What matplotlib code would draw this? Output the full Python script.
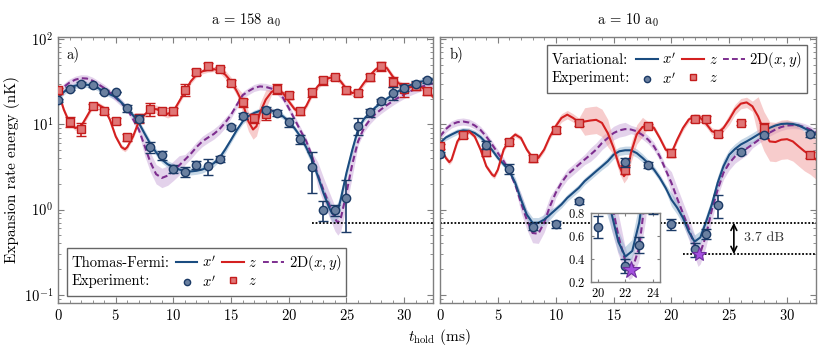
import numpy as np
import matplotlib.pyplot as plt
from matplotlib.lines import Line2D
from matplotlib.ticker import MultipleLocator

plt.rcParams['font.family'] = 'cmr10'
plt.rcParams['mathtext.fontset'] = 'cm'
plt.rcParams['axes.unicode_minus'] = False
plt.rcParams['axes.formatter.use_mathtext'] = True
plt.rcParams['font.size'] = 10.5

# ---------------- data: panel a) a = 158 a0 (Thomas-Fermi) ----------------
tf_xp_t = [0, 0.5, 1, 1.5, 2, 2.5, 3, 3.5, 4, 4.5, 5, 5.5, 6, 6.5, 7, 7.5, 8, 8.5, 9, 9.5,
           10, 10.5, 11, 11.5, 12, 12.5, 13, 13.5, 14, 14.5, 15, 15.5, 16, 16.5, 17, 17.5,
           18, 18.5, 19, 19.5, 20, 20.5, 21, 21.5, 22, 22.5, 23, 23.5, 23.75, 24, 24.25, 24.5,
           25, 25.5, 26, 26.5, 27, 27.5, 28, 28.5, 29, 29.5, 30, 30.5, 31, 31.5, 32, 32.5]
tf_xp_e = [20.4, 24, 27, 28.5, 29.2, 29.2, 28.5, 26.5, 24.2, 22.5, 21, 18, 15.2, 12.8, 10.4, 7.8,
           5.9, 4.7, 3.86, 3.4, 3.17, 2.95, 2.82, 2.8, 2.85, 2.95, 3.17, 3.5, 4.04, 5.1, 6.6, 8.6,
           10.8, 12.5, 13.6, 14.4, 14.9, 14.5, 13.6, 12.4, 10.8, 9.0, 7.2, 5.4, 3.86, 2.5, 1.57, 1.05,
           0.9, 0.87, 0.98, 1.31, 2.7, 5.0, 8.7, 11.5, 13.6, 15.8, 17.8, 20, 22.3, 24.5, 26.7, 28.7,
           30.5, 31.8, 32.8, 33.5]
tf_xp_band = [1.08] * 15 + [1.1] * 15 + [1.08] * 13 + [1.15] * 4 + [1.25] * 5 + [1.15] * 3 + [1.08] * 13

tf_z_t = [0, 0.5, 1, 1.5, 2, 2.5, 3, 3.5, 4, 4.5, 5, 5.5, 5.8, 6, 6.5, 7, 7.5, 8, 8.5, 9, 9.5,
          10, 10.5, 11, 11.5, 12, 12.5, 13, 13.5, 14, 14.5, 15, 15.5, 16, 16.5, 16.9, 17.2, 17.5,
          18, 18.5, 19, 19.5, 20, 20.5, 21, 21.5, 22, 22.5, 23, 23.5, 24, 24.5, 25, 25.5, 26,
          26.5, 27, 27.5, 28, 28.5, 29, 29.5, 30, 30.5, 31, 31.5, 32, 32.5]
tf_z_e = [24.4, 14.9, 10.4, 9.06, 9.5, 12.4, 16.3, 17, 15.5, 11.3, 7.2, 5.4, 5.1, 5.4, 7.2, 10.8,
          13, 14.9, 15.1, 14.2, 13.3, 14.2, 18.6, 24.4, 31.9, 38.3, 41.9, 43.8, 44.5, 42.9, 38.3,
          31.9, 24.4, 17.8, 10.8, 8.7, 9.5, 13.6, 19.5, 24, 26, 23.3, 18.6, 15.1, 13.6, 16.3, 22.3,
          27.9, 32.8, 35, 35.9, 31.9, 26, 23.3, 24.4, 30.5, 37.2, 43.8, 48.7, 45.8, 36.6, 30.5,
          27.9, 27.3, 27.9, 27.3, 25.5, 21]
tf_z_band = [1.07] * 17 + [1.12] * 5 + [1.07] * 8 + [1.12] * 3 + [1.3] * 6 + [1.08] * 29

tf_2d_t = [0, 0.5, 1, 1.5, 2, 2.5, 3, 3.5, 4, 4.5, 5, 5.5, 6, 6.5, 7, 7.5, 8, 8.5, 9, 9.5,
           10, 10.5, 11, 11.5, 12, 12.5, 13, 13.5, 14, 14.5, 15, 15.5, 16, 16.5, 17, 17.5,
           18, 18.5, 19, 19.5, 20, 20.5, 21, 21.5, 22, 22.5, 23, 23.5, 24, 24.25, 24.5,
           25, 25.5, 26, 26.5, 27, 27.5, 28, 28.5, 29, 29.5, 30, 30.5, 31, 31.5, 32, 32.5]
tf_2d_e = [23.3, 27.5, 31, 33.5, 34.8, 34.5, 32.5, 29.5, 26.7, 23.5, 20.5, 17.8, 15.2, 11.5, 8.7,
           5.6, 3.6, 2.6, 2.35, 2.5, 2.85, 3.3, 3.85, 4.5, 5.4, 6.3, 7.0, 7.7, 8.8, 10.5, 13.0, 17,
           22, 24.5, 26.8, 27.9, 27.5, 26.3, 24.5, 20.5, 15.5, 11.5, 8.5, 6.4, 4.3, 2.6, 1.7, 1.15,
           0.78, 0.70, 0.78, 1.57, 3.4, 6.3, 9.0, 11.2, 13.2, 15, 16.8, 18.7, 20.6, 22.5, 24.4, 26,
           27.6, 29, 30.3]
tf_2d_band = [1.1] * 15 + [1.3] * 7 + [1.15] * 8 + [1.1] * 15 + [1.4] * 8 + [1.12] * 14

exp158_xp_t = [0, 1, 2, 3, 4, 5, 6, 7, 8, 9, 10, 11, 12, 13, 14, 15, 16, 18, 19, 20, 21, 22,
               23, 24, 25, 26, 27, 28, 29, 30, 31, 32]
exp158_xp_e = [19.1, 26.2, 30.0, 28.6, 24.2, 24.2, 15.6, 11.7, 5.43, 4.33, 3.0, 2.77, 3.34, 3.22,
               3.93, 9.4, 12.6, 14.8, 13.7, 10.6, 6.74, 3.17, 1.0, 0.98, 1.37, 9.66, 13.8, 18.6,
               23.3, 26.7, 30.0, 32.8]
exp158_xp_err = [1.0, 1.2, 1.3, 1.2, 1.0, 0.0, 1.5, 1.1, 0.85, 0.5, 0.3, 0.38, 0.35, 0.7, 0.3,
                 0.5, 1.0, 1.0, 1.0, 1.2, 0.8, 1.6, 0.27, 0.15, 0.83, 2.2, 1.5, 1.3, 4.0, 2.0,
                 2.0, 2.0]

exp158_z_t = list(range(33))
exp158_z_e = [25, 10.8, 8.8, 16.3, 14.2, 11.0, 7.04, 11.8, 15.1, 14.5, 14.2, 25.5, 41, 47.9, 44.6,
              31, 18.1, 11.9, 13.2, 26, 22.1, 14.2, 23.7, 32.8, 35.9, 25, 23.3, 35.9, 47.9, 31.7,
              26, 28.4, 24.4]
exp158_z_err = [2, 1.5, 1.5, 1.2, 1.0, 0.8, 0.6, 1.5, 2.5, 1.2, 1.2, 4, 3.5, 4.5, 3, 2.5, 2.0,
                1.5, 2.0, 3.5, 2.0, 1.2, 2.5, 3.5, 2.5, 2.5, 2.0, 3.5, 6, 4.5, 5, 3, 2]

# ---------------- data: panel b) a = 10 a0 (variational) ----------------
var_xp_t = [i * 0.5 for i in range(66)]
var_xp_e = [6.05, 7.0, 7.6, 8.2, 8.5, 8.4, 7.9, 7.1, 6.05, 5.0, 4.04, 3.4, 2.82, 2.06, 1.31, 0.87,
            0.70, 0.70, 0.76, 0.87, 1.0, 1.15, 1.37, 1.57, 1.8, 2.15, 2.46, 2.82, 3.22, 3.69, 4.4,
            4.83, 4.96, 4.96, 4.6, 4.04, 3.5, 2.94, 2.35, 1.8, 1.31, 1.05, 0.8, 0.55, 0.42, 0.47,
            0.72, 1.15, 2.06, 3.22, 4.4, 5.14, 5.8, 6.3, 6.9, 7.6, 8.3, 9.1, 9.7, 10.1, 10.2, 10.1,
            9.7, 9.0, 8.3, 7.6]
var_xp_band = [1.08] * 13 + [1.15] * 7 + [1.1] * 9 + [1.12] * 7 + [1.1] * 4 + [1.2] * 10 + [1.15] * 6 + [1.08] * 10

var_z_t = [0, 0.5, 0.8, 1, 1.5, 2, 2.5, 3, 3.5, 4, 4.5, 4.7, 5, 5.5, 6, 6.5, 7, 7.5, 8, 8.5, 9,
           9.5, 10, 10.5, 11, 11.5, 12, 12.5, 13, 13.5, 14, 14.5, 15, 15.5, 15.9, 16.2, 16.5, 17,
           17.5, 18, 18.5, 19, 19.5, 20, 20.5, 21, 21.5, 22, 22.5, 23, 23.5, 24, 24.5, 25, 25.5,
           26, 26.5, 27, 27.5, 28, 28.5, 29, 29.5, 30, 30.5, 31, 31.5, 32, 32.5]
var_z_e = [5.5, 4.04, 3.6, 3.86, 6.3, 7.9, 8.3, 7.2, 5.06, 3.22, 2.57, 2.46, 2.94, 5.06, 6.6, 7.6,
           6.9, 5.06, 4.04, 4.04, 5.06, 7.2, 9.5, 11.9, 13, 11.9, 10.6, 10.8, 11.1, 11.3, 10.4, 7.9,
           5.3, 3.22, 2.46, 2.8, 4.6, 7.6, 9.3, 9.9, 9.06, 6.9, 5.06, 4.6, 6.6, 9.06, 11.4, 12.4,
           11.9, 10.2, 8.3, 7.9, 9.06, 11.4, 14.9, 17.5, 18.1, 16.3, 12.4, 8.3, 6.3, 6.2, 6.6, 6.7,
           6.3, 5.5, 4.83, 4.4, 3.86]
var_z_band = [1.07] * 22 + [1.12] * 5 + [1.45] * 5 + [1.2] * 4 + [1.3] * 3 + [1.08] * 9 + [1.1] * 5 + [1.15] * 5 + [1.7] * 11

var_2d_t = [0, 0.5, 1, 1.5, 2, 2.5, 3, 3.5, 4, 4.5, 5, 5.5, 6, 6.5, 7, 7.5, 8, 8.5, 9, 9.5,
            10, 10.5, 11, 11.5, 12, 12.5, 13, 13.5, 14, 14.5, 15, 15.5, 16, 16.5, 17, 17.5,
            18, 18.5, 19, 19.5, 20, 20.5, 21, 21.5, 22, 22.3, 22.5, 23, 23.5, 24, 24.5, 25,
            25.5, 26, 26.5, 27, 27.5, 28, 28.5, 29, 29.5, 30, 30.5, 31, 31.5, 32, 32.5]
var_2d_e = [7.2, 8.8, 10, 10.6, 10.8, 10.5, 9.7, 8.6, 7.2, 5.8, 4.6, 3.7, 2.82, 1.96, 1.2, 0.76,
            0.53, 0.52, 0.70, 1.09, 1.57, 2.06, 2.57, 2.94, 3.37, 3.86, 4.4, 5.06, 6.05, 6.9, 7.9,
            8.5, 8.8, 8.7, 8.3, 7.5, 6.6, 5.5, 4.2, 2.94, 2.06, 1.35, 0.9, 0.6, 0.38, 0.29, 0.31,
            0.5, 1.0, 1.71, 2.7, 3.5, 4.2, 4.7, 5.2, 5.8, 6.5, 7.2, 8.0, 8.7, 9.3, 9.7, 9.8, 9.7,
            9.3, 8.7, 8.0]
var_2d_band = [1.1] * 14 + [1.3] * 6 + [1.15] * 6 + [1.2] * 7 + [1.12] * 7 + [1.35] * 9 + [1.2] * 6 + [1.1] * 12

exp10_xp_t = [0, 4, 6, 8, 10, 12, 16, 18, 20, 22, 23, 24, 26, 28, 32]
exp10_xp_e = [4.5, 5.8, 3.0, 0.63, 0.67, 1.25, 3.6, 3.35, 0.68, 0.34, 0.52, 1.14, 4.8, 7.5, 7.7]
exp10_xp_err = [0.25, 0.6, 0.4, 0.06, 0.06, 0.08, 0.4, 0.25, 0.1, 0.06, 0.07, 0.35, 0.3, 0.5, 0.5]

exp10_z_t = [0, 2, 4, 6, 8, 10, 12, 16, 18, 20, 22, 23, 24, 26, 28, 32]
exp10_z_e = [5.5, 7.5, 4.7, 6.25, 4.0, 8.6, 10.25, 2.94, 9.6, 4.65, 11.6, 11.6, 7.8, 10.35, 9.1, 4.4]
exp10_z_err = [0.4, 0.5, 0.5, 0.4, 0.4, 0.6, 0.6, 0.35, 0.6, 0.5, 0.8, 0.8, 0.6, 0.6, 1.2, 0.4]

star_t = 22.4
star_e = 0.30
ref_level = 0.70
left_ref_start = 22
right_low_start = 21
arrow_t = 25.4
db_label = '3.7 dB'

# ---------------- styles ----------------
blue, blue_band = '#1a4c80', '#8fb0cf'
red, red_band = '#d42020', '#f09a9a'
purple, purple_band = '#7d2e8f', '#c9a6d9'
circ_face, circ_edge = '#6a80a0', '#1b3a66'
sq_face, sq_edge = '#e07676', '#c41c1c'
dash = (0, (3, 1.6))
frame_col = '#7f7f7f'


def draw_curves(ax, curves):
    for t, e, band, col, bcol, ls in curves:
        t, e, band = np.array(t), np.array(e), np.array(band)
        ax.fill_between(t, e / band, e * band, color=bcol, alpha=0.5, lw=0, zorder=1)
        ax.plot(t, e, color=col, ls=ls, lw=1.5, zorder=2)


def draw_points(ax, t, e, err, kind, ms_scale=1.0):
    if kind == 'o':
        ax.errorbar(t, e, yerr=err, fmt='o', ms=6 * ms_scale, mfc=circ_face, mec=circ_edge, mew=1,
                    ecolor=circ_edge, elinewidth=1.2, capsize=3.5, capthick=1.2, zorder=4)
    else:
        ax.errorbar(t, e, yerr=err, fmt='s', ms=5.2 * ms_scale, mfc=sq_face, mec=sq_edge, mew=1,
                    ecolor=sq_edge, elinewidth=1.2, capsize=3.5, capthick=1.2, zorder=3)


def style_axes(ax):
    for s in ax.spines.values():
        s.set_color(frame_col)
        s.set_linewidth(1.0)
    ax.tick_params(which='both', direction='in', top=True, right=True, color=frame_col)
    ax.tick_params(which='major', length=4)
    ax.tick_params(which='minor', length=2)


def make_legend(ax, title, loc, anchor):
    blank = Line2D([], [], ls='none')
    handles = [blank, blank,
               Line2D([], [], color=blue, lw=1.5),
               Line2D([], [], ls='none', marker='o', ms=6, mfc=circ_face, mec=circ_edge),
               Line2D([], [], color=red, lw=1.5),
               Line2D([], [], ls='none', marker='s', ms=5.2, mfc=sq_face, mec=sq_edge),
               Line2D([], [], color=purple, ls=dash, lw=1.4),
               blank]
    labels = [title, 'Experiment:', r'$x^\prime$', r'$x^\prime$', r'$z$', r'$z$',
              r'$2\mathrm{D}(x,y)$', '']
    leg = ax.legend(handles, labels, ncol=4, loc=loc, bbox_to_anchor=anchor, borderaxespad=0,
                    handlelength=1.5, handletextpad=0.3, columnspacing=0.4, labelspacing=0.3,
                    markerscale=0.75, fancybox=False, edgecolor='#666666', framealpha=1,
                    borderpad=0.35)
    leg.get_frame().set_linewidth(1.0)
    leg.set_zorder(10)
    # first column holds plain text labels: drop their handle space
    for hp in leg._legend_handle_box.get_children()[0].get_children():
        hp.get_children()[0].width = 0
        hp.sep = 0
    return leg


fig = plt.figure(figsize=(8.22, 3.56), dpi=100)
ax1 = fig.add_axes([0.0706, 0.149, 0.4562, 0.747])
ax2 = fig.add_axes([0.5353, 0.149, 0.4574, 0.747], sharey=ax1)

# panel a
draw_curves(ax1, [(tf_2d_t, tf_2d_e, tf_2d_band, purple, purple_band, dash),
                  (tf_xp_t, tf_xp_e, tf_xp_band, blue, blue_band, '-'),
                  (tf_z_t, tf_z_e, tf_z_band, red, red_band, '-')])
draw_points(ax1, exp158_z_t, exp158_z_e, exp158_z_err, 's')
draw_points(ax1, exp158_xp_t, exp158_xp_e, exp158_xp_err, 'o')
ax1.hlines(ref_level, left_ref_start, 32.5, colors='k', linestyles=(0, (1, 1)), lw=1.3, zorder=2.5)

# panel b
draw_curves(ax2, [(var_2d_t, var_2d_e, var_2d_band, purple, purple_band, dash),
                  (var_xp_t, var_xp_e, var_xp_band, blue, blue_band, '-'),
                  (var_z_t, var_z_e, var_z_band, red, red_band, '-')])
draw_points(ax2, exp10_z_t, exp10_z_e, exp10_z_err, 's')
draw_points(ax2, exp10_xp_t, exp10_xp_e, exp10_xp_err, 'o')
ax2.plot([star_t], [star_e], marker='*', ms=10, mfc='#a450e0', mec='#6f2fa0', mew=0.8, zorder=5)
ax2.hlines(ref_level, 0, 32.5, colors='k', linestyles=(0, (1, 1)), lw=1.3, zorder=2.5)
ax2.hlines(star_e, right_low_start, 32.5, colors='k', linestyles=(0, (1, 1)), lw=1.3, zorder=2.5)
ax2.annotate('', xy=(arrow_t, star_e), xytext=(arrow_t, ref_level),
             arrowprops=dict(arrowstyle='<->', color='k', lw=1.2, shrinkA=0, shrinkB=0))
ax2.text(arrow_t + 0.9, np.sqrt(star_e * ref_level), db_label, va='center', ha='left',
         fontsize=10, color='#333333')

for ax in (ax1, ax2):
    ax.set_yscale('log')
    ax.set_xlim(0, 32.5)
    ax.xaxis.set_major_locator(MultipleLocator(5))
    ax.xaxis.set_minor_locator(MultipleLocator(1))
    style_axes(ax)
ax1.set_ylim(0.08, 106)
ax2.tick_params(labelleft=False)

ax1.set_title(r'a = 158 a$_0$', fontsize=10.5, pad=9)
ax2.set_title(r'a = 10 a$_0$', fontsize=10.5, pad=9)
ax1.text(0.022, 0.965, 'a)', transform=ax1.transAxes, va='top', ha='left')
ax2.text(0.026, 0.965, 'b)', transform=ax2.transAxes, va='top', ha='left')
ax1.set_ylabel('Expansion rate energy (nK)', fontsize=11, labelpad=3)
fig.text(0.535, 0.052, r'$t_\mathrm{hold}$ (ms)', ha='center', va='center', fontsize=11)

make_legend(ax1, 'Thomas-Fermi:', 'lower left', (0.023, 0.026))
make_legend(ax2, 'Variational:', 'upper right', (0.976, 0.97))

# inset around the second minimum
axin = fig.add_axes([0.7186, 0.2087, 0.0843, 0.192])
draw_curves(axin, [(var_2d_t, var_2d_e, var_2d_band, purple, purple_band, dash),
                   (var_xp_t, var_xp_e, var_xp_band, blue, blue_band, '-')])
draw_points(axin, exp10_xp_t, exp10_xp_e, exp10_xp_err, 'o')
axin.plot([star_t], [star_e], marker='*', ms=13, mfc='#a450e0', mec='#6f2fa0', mew=0.8, zorder=5)
axin.set_xlim(19.5, 24.5)
axin.set_ylim(0.2, 0.8)
axin.set_xticks([20, 22, 24])
axin.set_yticks([0.2, 0.4, 0.6, 0.8])
axin.set_facecolor('white')
style_axes(axin)
axin.tick_params(labelsize=9, length=2.5)

fig.savefig('out.png', dpi=100)
